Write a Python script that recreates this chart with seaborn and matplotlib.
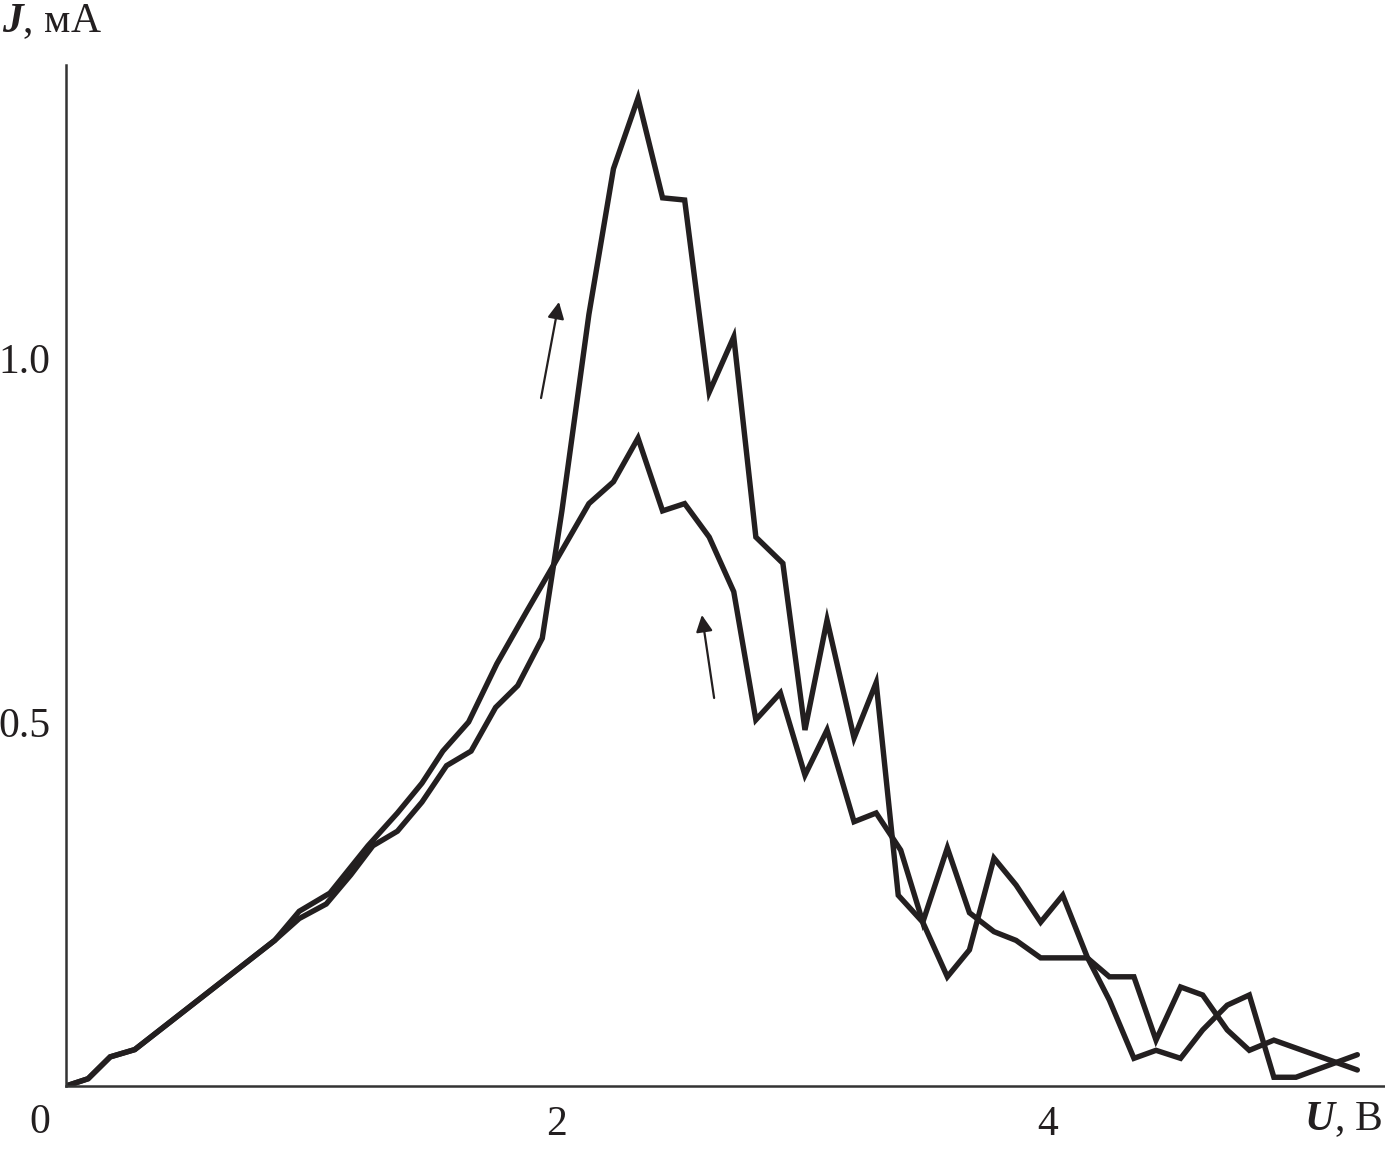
import matplotlib
matplotlib.use('Agg')
import matplotlib.pyplot as plt
import pandas as pd
import seaborn as sns

# кривая с большим пиком (прямой ход)
u_up = [0.00, 0.09, 0.18, 0.28, 0.85, 0.95, 1.06, 1.16, 1.25, 1.35, 1.45, 1.55, 1.65,
        1.75, 1.84, 1.94, 2.02, 2.13, 2.23, 2.33, 2.43, 2.52, 2.62, 2.72, 2.81, 2.92,
        3.01, 3.10, 3.21, 3.30, 3.39, 3.49, 3.59, 3.68, 3.78, 3.87, 3.97, 4.06, 4.16,
        4.25, 4.35, 4.44, 4.54, 4.63, 4.73, 4.82, 4.92, 5.01, 5.26]
j_up = [0.00, 0.01, 0.04, 0.05, 0.20, 0.23, 0.25, 0.29, 0.33, 0.35, 0.39, 0.44, 0.46,
        0.52, 0.55, 0.615, 0.79, 1.06, 1.26, 1.357, 1.22, 1.217, 0.953, 1.029, 0.754, 0.718,
        0.489, 0.64, 0.478, 0.554, 0.262, 0.225, 0.15, 0.187, 0.313, 0.276, 0.225, 0.262, 0.177,
        0.118, 0.038, 0.049, 0.038, 0.077, 0.111, 0.125, 0.012, 0.012, 0.043]

# кривая с малым пиком
u_down = [0.00, 0.09, 0.18, 0.28, 0.85, 0.95, 1.075, 1.23, 1.35, 1.45, 1.535, 1.64, 1.755,
          1.88, 1.99, 2.13, 2.23, 2.33, 2.43, 2.52, 2.62, 2.72, 2.81, 2.91, 3.01, 3.10,
          3.21, 3.30, 3.40, 3.49, 3.59, 3.68, 3.78, 3.87, 3.97, 4.16, 4.25, 4.35, 4.44,
          4.54, 4.63, 4.73, 4.82, 4.92, 5.26]
j_down = [0.00, 0.01, 0.04, 0.05, 0.20, 0.24, 0.265, 0.33, 0.375, 0.416, 0.46, 0.50, 0.58,
          0.654, 0.718, 0.80, 0.83, 0.89, 0.79, 0.80, 0.754, 0.679, 0.503, 0.54, 0.427, 0.489,
          0.363, 0.375, 0.324, 0.225, 0.327, 0.238, 0.212, 0.20, 0.176, 0.176, 0.15, 0.15, 0.063,
          0.136, 0.125, 0.077, 0.049, 0.063, 0.022]

# стрелки направления развертки (хвост, острие)
arrow1 = ((1.935, 0.945), (2.008, 1.077))
arrow2 = ((2.64, 0.533), (2.59, 0.647))

df = pd.concat([
    pd.DataFrame({"U": u_up, "J": j_up, "curve": "up"}),
    pd.DataFrame({"U": u_down, "J": j_down, "curve": "down"}),
])

sns.set_style("white")
plt.rcParams['font.family'] = ['Liberation Serif', 'DejaVu Serif']
plt.rcParams['mathtext.fontset'] = 'custom'
plt.rcParams['mathtext.it'] = 'Liberation Serif:italic:bold'
plt.rcParams['mathtext.rm'] = 'Liberation Serif'

ink = "#231f20"
fig = plt.figure(figsize=(13.85, 11.5), dpi=100)
ax = fig.add_axes([66 / 1385, 64 / 1150, 1319 / 1385, 1021 / 1150])

sns.lineplot(data=df, x="U", y="J", units="curve", estimator=None, sort=False,
             color=ink, lw=3.9, ax=ax, legend=False)
for ln in ax.lines:
    ln.set_solid_joinstyle("miter")

ax.set_xlim(0, 1319 / 245.5)
ax.set_ylim(0, 1021 / 728)

for s in ["top", "right"]:
    ax.spines[s].set_visible(False)
for s in ["left", "bottom"]:
    ax.spines[s].set_color("#333333")
    ax.spines[s].set_linewidth(1.8)

ax.set_xticks([2, 4])
ax.set_xticklabels(["2", "4"])
ax.set_yticks([0.5, 1.0])
ax.set_yticklabels(["0.5", "1.0"])
ax.tick_params(axis="both", direction="in", length=10, width=1.6, color="#333333",
               labelsize=30, labelcolor=ink)
ax.tick_params(axis="x", pad=14)
ax.tick_params(axis="y", pad=11)
ax.set_xlabel("")
ax.set_ylabel("")

fig.text(40 / 1385, 1 - 1123 / 1150, "0", fontsize=30, color=ink, ha="center", va="center")
fig.text(2 / 1385, 1 - 22 / 1150, r"$\mathit{J}$, мА", fontsize=30, color=ink,
         ha="left", va="center")
fig.text(1383 / 1385, 1 - 1120 / 1150, r"$\mathit{U}$, В", fontsize=30, color=ink,
         ha="right", va="center")

for tail, head in [arrow1, arrow2]:
    ax.annotate("", xy=head, xytext=tail,
                arrowprops=dict(arrowstyle="-|>", color=ink, lw=1.6, mutation_scale=25,
                                shrinkA=0, shrinkB=0))

fig.savefig("out.png", dpi=100)
